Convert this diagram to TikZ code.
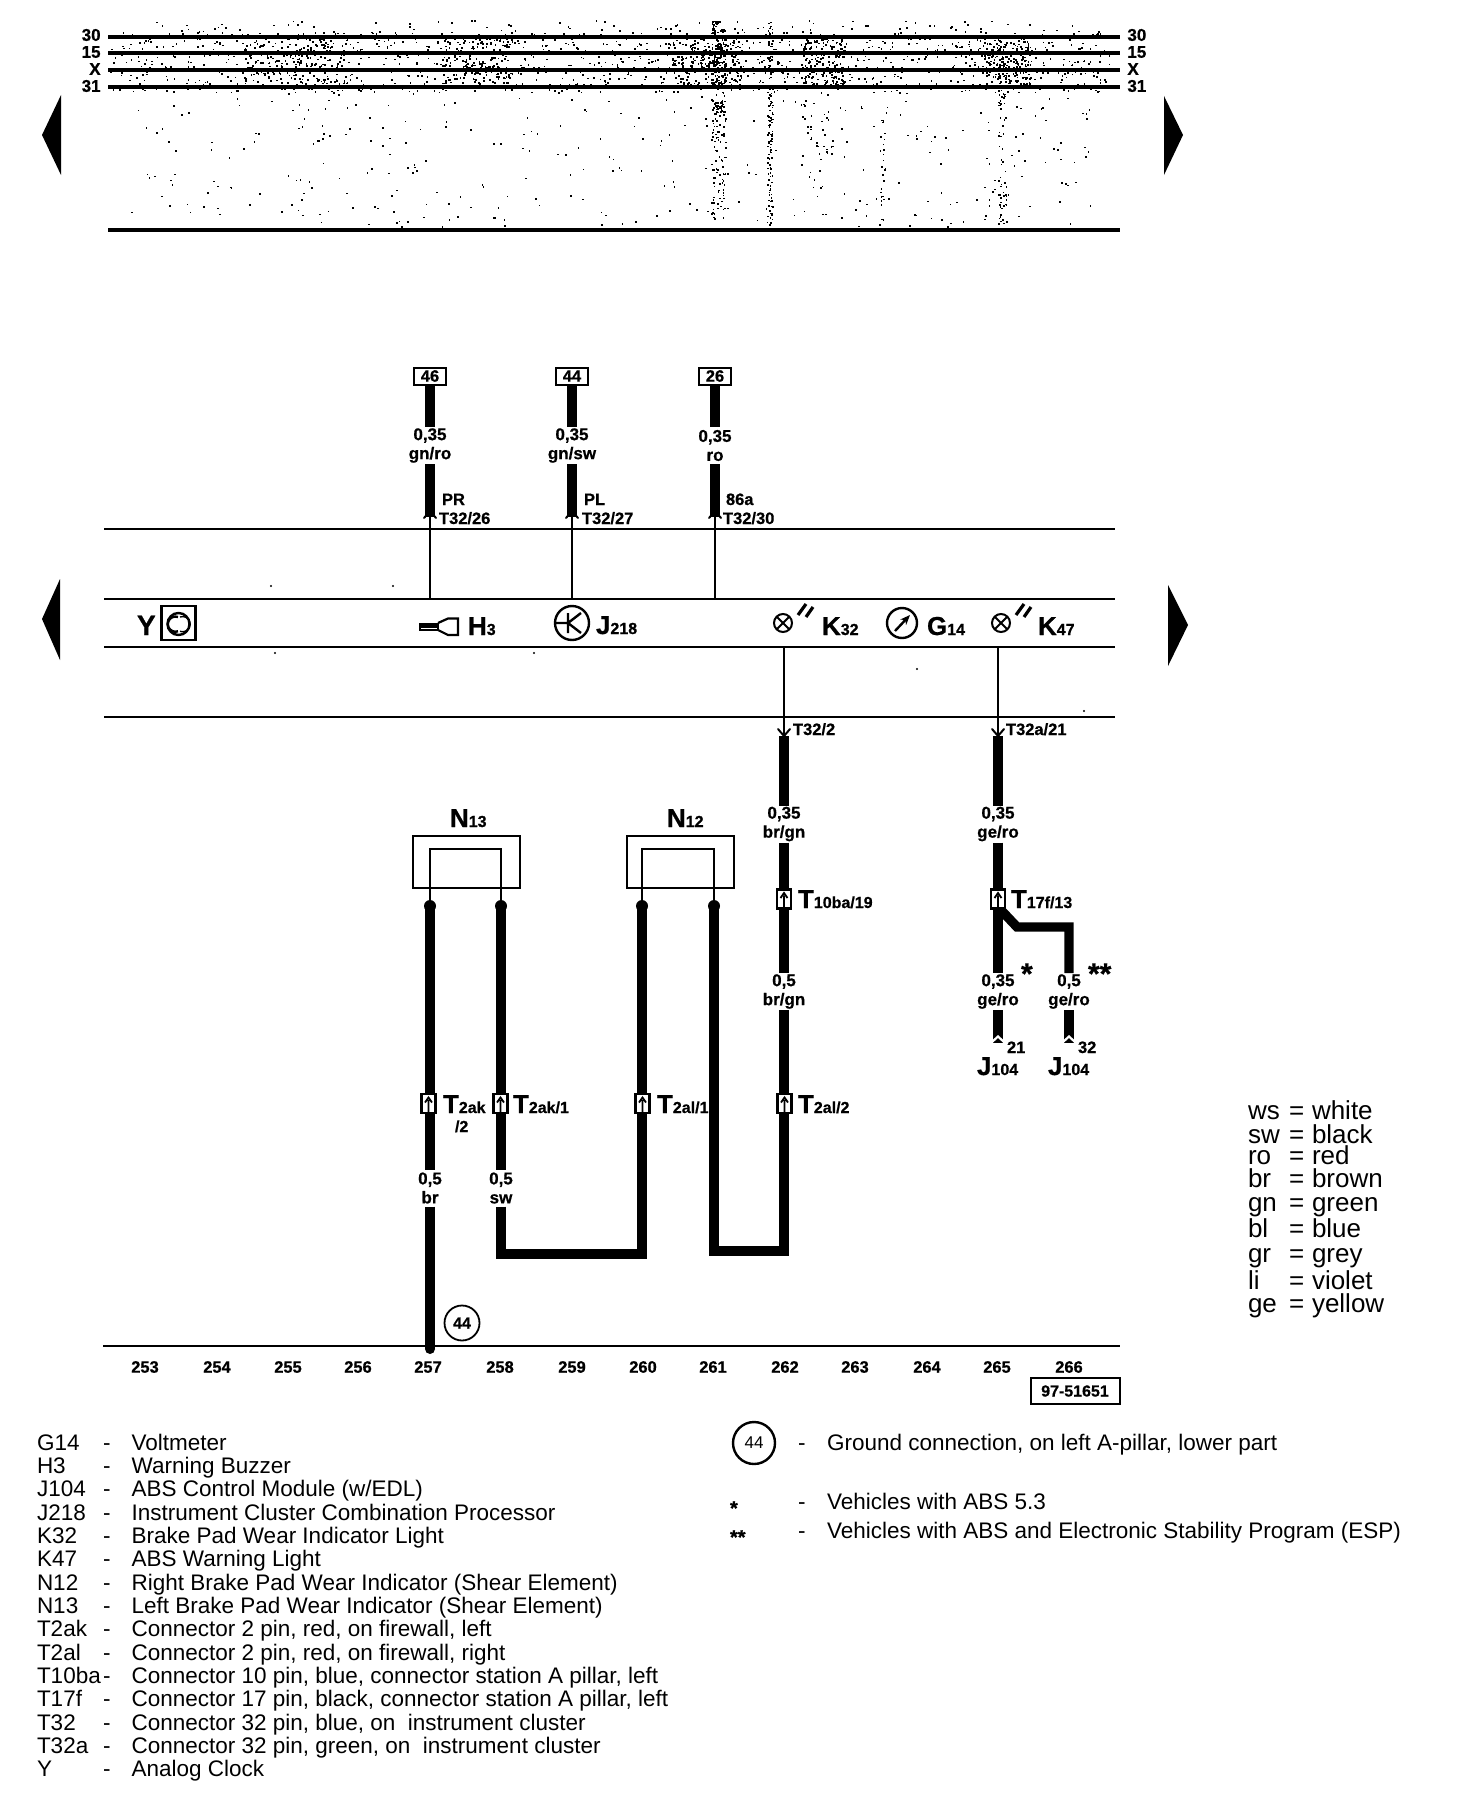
\documentclass[tikz,border=0pt]{standalone}
\usepackage{fontspec}
\setmainfont[BoldFeatures={FakeBold=0.7}]{Liberation Sans}
\usetikzlibrary{arrows.meta}
\newcommand\subs[1]{{\fontsize{8}{8}\selectfont #1}}
\tikzset{
  wire/.style={line width=4.7pt,line cap=butt,line join=miter},
  thinw/.style={line width=1.4pt},
  rule/.style={line width=1.3pt},
  bus/.style={line width=2.1pt},
  chev/.style={line width=1pt,line cap=round},
  wl/.style={inner sep=0pt,outer sep=0pt,align=center,font=\fontsize{8.5}{9.5}\selectfont\bfseries,minimum height=18.5pt},
  lab/.style={inner sep=0pt,outer sep=0pt,anchor=base west},
  small/.style={lab,font=\fontsize{8.25}{9}\selectfont\bfseries},
  comp/.style={lab,font=\fontsize{13}{13}\selectfont\bfseries},
  buslab/.style={inner sep=0pt,font=\fontsize{8.5}{8.5}\selectfont\bfseries},
  refbox/.style={draw,line width=1pt,inner sep=0pt,outer sep=0pt,minimum width=17pt,minimum height=9pt,font=\fontsize{8}{8}\selectfont\bfseries},
  numlab/.style={inner sep=0pt,font=\fontsize{8.25}{9}\selectfont\bfseries},
  legk/.style={lab,font=\fontsize{11.25}{12}\selectfont},
  colk/.style={lab,font=\fontsize{13}{13}\selectfont},
  connbox/.style={draw,fill=white,line width=1.4pt,minimum width=7pt,minimum height=9.5pt,inner sep=0pt,outer sep=0pt},
  dotn/.style={circle,fill=black,inner sep=0pt,outer sep=0pt,minimum size=6pt},
  lampn/.style={circle,draw,line width=1pt,minimum size=9pt,inner sep=0pt,outer sep=0pt},
  topbox/.style={draw,line width=1pt,minimum width=16pt,minimum height=8.5pt,inner sep=0pt,outer sep=0pt,font=\fontsize{8.25}{9}\selectfont\bfseries},
}
\newcommand\conn[3]{%
  \node[connbox] (#1) at (#2,#3) {};
  \draw[line width=.9pt] (#1.south) -- ++(0,-13) (#2-3.5,#3-1) -- (#2,#3-6) -- (#2+3.5,#3-1);
}
\newcommand\lamp[3]{%
  \node[lampn] (#1) at (#2,#3) {};
  \draw[line width=1pt] (#1.north east) -- (#1.south west) (#1.north west) -- (#1.south east);
  \draw[line width=1.6pt] (#2+15,#3-8) -- (#2+23,#3-19) (#2+23,#3-6) -- (#2+30,#3-16);
}
\newcommand\legrow[4]{%
  \node[legk] (k#1) at (37,#4) {#2};
  \node[legk] (d#1) at (103,#4) {-};
  \node[legk] (v#1) at (131.6,#4) {#3};
}
\newcommand\colrow[4]{%
  \node[colk] (c#1) at (1248,#4) {#2};
  \node[colk] (e#1) at (1289,#4) {=};
  \node[colk] (n#1) at (1312,#4) {#3};
}
\begin{document}
\begin{tikzpicture}[x=.5pt,y=-.5pt]
\useasboundingbox (0,0) rectangle (1472,1814);
% --- speckle of the scan
\pgfmathsetseed{4217}
\foreach \i in {1,...,1200}{\pgfmathsetmacro\xx{110+rnd*1000}\pgfmathsetmacro\yy{32+rnd*60}\fill (\xx,\yy) rectangle ++(1.6,1.6);}
\foreach \a/\w in {243/104,440/70,672/69,800/45,984/46}{
  \foreach \i in {1,...,170}{\pgfmathsetmacro\xx{\a+rnd*\w}\pgfmathsetmacro\yy{36+rnd*52}\fill (\xx,\yy) rectangle ++(1.8,1.8);}
}
\foreach \i in {1,...,110}{\pgfmathsetmacro\xx{150+rnd*950}\pgfmathsetmacro\yy{20+rnd*14}\fill (\xx,\yy) rectangle ++(1.6,1.6);}
\foreach \i in {1,...,330}{\pgfmathsetmacro\xx{130+rnd*960}\pgfmathsetmacro\yy{92+rnd*135}\fill (\xx,\yy) rectangle ++(1.6,1.6);}
\foreach \i in {1,...,170}{\pgfmathsetmacro\xx{711+rnd*14}\pgfmathsetmacro\yy{20+rnd*100}\fill (\xx,\yy) rectangle ++(1.8,1.8);}
\foreach \i in {1,...,80}{\pgfmathsetmacro\xx{711+rnd*14}\pgfmathsetmacro\yy{120+rnd*100}\fill (\xx,\yy) rectangle ++(1.6,1.6);}
\foreach \i in {1,...,130}{\pgfmathsetmacro\xx{767+rnd*5}\pgfmathsetmacro\yy{20+rnd*205}\fill (\xx,\yy) rectangle ++(1.6,1.6);}
\foreach \i in {1,...,100}{\pgfmathsetmacro\xx{998+rnd*8}\pgfmathsetmacro\yy{30+rnd*195}\fill (\xx,\yy) rectangle ++(1.6,1.6);}
\foreach \i in {1,...,25}{\pgfmathsetmacro\xx{880+rnd*5}\pgfmathsetmacro\yy{90+rnd*135}\fill (\xx,\yy) rectangle ++(1.6,1.6);}
\foreach \i in {1,...,40}{\pgfmathsetmacro\xx{800+rnd*35}\pgfmathsetmacro\yy{90+rnd*100}\fill (\xx,\yy) rectangle ++(1.6,1.6);}
\foreach \p in {(393,586),(534,653),(917,669),(1084,711),(275,653),(271,586)}{\fill \p circle[radius=1.2];}
% --- top bus
\foreach \n/\t/\y/\ty in {a/30/36.7/35,b/15/53.3/52,c/X/70.3/69,d/31/87/86}{
  \node[buslab,anchor=east] (bl\n) at (101,\ty) {\t};
  \node[buslab,anchor=west] (br\n) at (1127,\ty) {\t};
  \coordinate (bs\n) at (108,\y); \coordinate (be\n) at (1120,\y);
  \draw[bus] (bs\n) -- (be\n);
}
\coordinate (bs0) at (108,230); \coordinate (be0) at (1120,230);
\draw[line width=1.9pt] (bs0) -- (be0);
% --- page arrows
\fill (42,135) -- (61,95) -- (61,175) -- cycle;
\fill (1183,135) -- (1164,96) -- (1164,175) -- cycle;
\fill (42,619) -- (60,579) -- (60,660) -- cycle;
\fill (1188,625) -- (1168,585) -- (1168,666) -- cycle;
% --- horizontal rules
\foreach \n/\y in {a/529,b/599,c/647,d/717}{
  \coordinate (rs\n) at (104,\y); \coordinate (re\n) at (1115,\y);
  \draw[rule] (rs\n) -- (re\n);
}
\coordinate (gs) at (103,1346); \coordinate (ge) at (1120,1346);
\draw[rule] (gs) -- (ge);
% --- upper wires
\node[topbox] (t46) at (430,376) {46};
\node[topbox] (t44) at (572,376) {44};
\node[topbox] (t26) at (715,376) {26};
\node[wl] (w46) at (430,445.5) {0,35\\gn/ro};
\node[wl] (w44) at (572,445.5) {0,35\\gn/sw};
\node[wl] (w26) at (715,445.5) {0,35\\ro};
\foreach \n/\x in {46/430,44/572,26/715}{
  \coordinate (e\n) at (\x,517);
  \coordinate (a\n) at (\x,511);
  \coordinate (b\n) at (\x,599);
  \draw[wire] (t\n.south) -- (w\n.north) (w\n.south) -- (e\n);
  \draw[thinw] (b\n) -- (a\n);
  \draw[chev] (\x-6,518) -- (a\n) -- (\x+6,518);
}
\node[small] (pr) at (442,505) {PR};
\node[small] (t3226) at (439,524) {T32/26};
\node[small] (pl) at (584,505) {PL};
\node[small] (t3227) at (582,524) {T32/27};
\node[small] (s86) at (726,505) {86a};
\node[small] (t3230) at (723,524) {T32/30};
% --- instrument row
\node[comp,font=\fontsize{14}{14}\selectfont\bfseries] (ylab) at (137,635) {Y};
\node[draw,line width=1.2pt,minimum size=17pt,inner sep=0pt,outer sep=0pt] (ybox) at (178.5,623) {};
\node[circle,draw,line width=1.2pt,minimum size=11pt,inner sep=0pt,outer sep=0pt] (yclk) at (178.5,624) {};
\draw[line width=1.2pt] (178,617) arc[start angle=70,end angle=290,radius=3.8pt];
\draw[line width=.7pt] (180,617) arc[start angle=110,end angle=-110,radius=3.8pt];
\draw[line width=1.7pt] (420,626.5) -- (438,626.5);
\draw[line width=1pt] (420,623.5) rectangle (438,630);
\draw[line width=1.1pt] (438,623) -- (448,618.5) -- (458,618.5) -- (458,635) -- (448,635) -- (438,630);
\node[comp] (h3) at (468,635) {H\subs{3}};
\node[circle,draw,line width=1.2pt,minimum size=17pt,inner sep=0pt,outer sep=0pt] (j218c) at (572,623) {};
\draw[line width=1.2pt] (j218c.west) -- (568,623) (568,613) -- (568,633) (568,623) -- (581,613) (568,623) -- (581,633);
\node[comp] (j218) at (596,634) {J\subs{218}};
\lamp{k32l}{783}{623}
\node[comp] (k32) at (822,635) {K\subs{32}};
\node[circle,draw,line width=1.2pt,minimum size=15pt,inner sep=0pt,outer sep=0pt] (g14c) at (902,623) {};
\draw[line width=1.2pt,-{Stealth[length=5pt,width=4pt]}] (895,631) -- (910,615);
\node[comp] (g14) at (927,635) {G\subs{14}};
\lamp{k47l}{1001}{623}
\node[comp] (k47) at (1038,635) {K\subs{47}};
% --- wires below the instrument row
\coordinate (k2t) at (784,647); \coordinate (k2a) at (784,736);
\coordinate (k7t) at (998,647); \coordinate (k7a) at (998,736);
\draw[thinw] (k2t) -- (k2a);
\draw[thinw] (k7t) -- (k7a);
\draw[chev] (778,729) -- (k2a) -- (790,729);
\draw[chev] (992,729) -- (k7a) -- (1004,729);
\node[small] (t322) at (793,735) {T32/2};
\node[small] (t32a) at (1006,735) {T32a/21};
\node[wl] (wa) at (784,824) {0,35\\br/gn};
\node[wl] (wb) at (784,991.5) {0,5\\br/gn};
\node[wl] (wc) at (998,824) {0,35\\ge/ro};
\node[wl] (wd) at (998,991.5) {0,35\\ge/ro};
\node[wl] (we) at (1069,991.5) {0,5\\ge/ro};
\node[wl] (wf) at (430,1188) {0,5\\br};
\node[wl] (wg) at (501,1188) {0,5\\sw};
% N boxes
\node[draw,line width=1.2pt,minimum width=53.5pt,minimum height=26pt,inner sep=0pt,outer sep=0pt] (n13) at (466.5,862) {};
\node[draw,line width=1.2pt,minimum width=53.5pt,minimum height=26pt,inner sep=0pt,outer sep=0pt] (n12) at (680.5,862) {};
\node[comp] (n13l) at (450,827) {N\subs{13}};
\node[comp] (n12l) at (667,827) {N\subs{12}};
\node[dotn] (d1) at (430,906) {};
\node[dotn] (d2) at (501,906) {};
\node[dotn] (d3) at (642,906) {};
\node[dotn] (d4) at (714,906) {};
\draw[line width=1.2pt] (430,888) |- (501,849) -- (501,888);
\draw[line width=1.2pt] (642,888) |- (714,849) -- (714,888);
\draw[line width=.7pt] (d1) -- (430,888) (d2) -- (501,888) (d3) -- (642,888) (d4) -- (714,888);
% thick wires
\coordinate (s0) at (784,736);
\coordinate (s1) at (998,736);
\draw[wire] (s0) -- (wa.north) (wa.south) -- (wb.north);
\coordinate (wbr) at (784,1251); \coordinate (d4b) at (714,1251);
\draw[wire] (wb.south) -- (wbr) -- (d4b) -- (d4.center);
\draw[wire] (s1) -- (wc.north) (wc.south) -- (wd.north);
\coordinate (j1) at (1000,909); \coordinate (j2) at (1017,927); \coordinate (j3) at (1069,927);
\draw[wire] (j1) -- (j2) -- (j3) -- (we.north);
\coordinate (e1) at (998,1043); \coordinate (e2) at (1069,1043);
\draw[wire] (wd.south) -- (e1);
\draw[wire] (we.south) -- (e2);
\draw[line width=1.1pt,white] (992,1042) -- (998,1036.5) -- (1004,1042);
\draw[line width=1.1pt,white] (1063,1042) -- (1069,1036.5) -- (1075,1042);
\draw[wire] (d1.center) -- (wf.north);
\coordinate (g1) at (430,1349);
\draw[wire] (wf.south) -- (g1);
\draw[wire] (d2.center) -- (wg.north);
\coordinate (bl1) at (501,1254); \coordinate (bl2) at (642,1254);
\draw[wire] (wg.south) -- (bl1) -- (bl2) -- (d3.center);
\node[dotn,minimum size=5pt] (g1d) at (g1) {};
% connectors
\conn{c1}{784}{899}
\conn{c2}{998}{899}
\conn{c3}{428.5}{1103.5}
\conn{c4}{500.5}{1103.5}
\conn{c5}{642.5}{1103.5}
\conn{c6}{784.5}{1103.5}
\node[comp] (tl1) at (798,908) {T\subs{10ba/19}};
\node[comp] (tl2) at (1011,908) {T\subs{17f/13}};
\node[comp] (tl3) at (443,1113) {T\subs{2ak}};
\node[comp,font=\fontsize{8}{8}\selectfont\bfseries] (tl3b) at (455,1132) {/2};
\node[comp] (tl4) at (513,1113) {T\subs{2ak/1}};
\node[comp] (tl5) at (657,1113) {T\subs{2al/1}};
\node[comp] (tl6) at (798,1113) {T\subs{2al/2}};
\node[small,font=\fontsize{15}{15}\selectfont\bfseries] (st1) at (1021,984) {*};
\node[small,font=\fontsize{15}{15}\selectfont\bfseries] (st2) at (1088,984) {**};
\node[small] (p21) at (1007,1053) {21};
\node[small] (p32) at (1078,1053) {32};
\node[comp] (j1a) at (977,1075) {J\subs{104}};
\node[comp] (j1b) at (1048,1075) {J\subs{104}};
% ground
\node[circle,draw,line width=.9pt,minimum size=17.5pt,inner sep=0pt,outer sep=0pt,font=\fontsize{8}{8}\selectfont\bfseries] (g44) at (462,1323) {44};
% numbers
\foreach \n/\x in {253/145,254/217,255/288,256/358,257/428,258/500,259/572,260/643,261/713,262/785,263/855,264/927,265/997,266/1069}{
  \node[numlab] (nr\n) at (\x,1367) {\n};
}
\node[refbox,minimum width=44.5pt,minimum height=13pt] (ref) at (1075,1391) {97-51651};
% colour key
\colrow{a}{ws}{white}{1119}
\colrow{b}{sw}{black}{1143}
\colrow{c}{ro}{red}{1164}
\colrow{d}{br}{brown}{1187}
\colrow{e}{gn}{green}{1211}
\colrow{f}{bl}{blue}{1237}
\colrow{g}{gr}{grey}{1262}
\colrow{h}{li}{violet}{1289}
\colrow{i}{ge}{yellow}{1312}
% legend
\legrow{a}{G14}{Voltmeter}{1450}
\legrow{b}{H3}{Warning Buzzer}{1473.3}
\legrow{c}{J104}{ABS Control Module (w/EDL)}{1496.7}
\legrow{d}{J218}{Instrument Cluster Combination Processor}{1520}
\legrow{e}{K32}{Brake Pad Wear Indicator Light}{1543.3}
\legrow{f}{K47}{ABS Warning Light}{1566.7}
\legrow{g}{N12}{Right Brake Pad Wear Indicator (Shear Element)}{1590}
\legrow{h}{N13}{Left Brake Pad Wear Indicator (Shear Element)}{1613.3}
\legrow{i}{T2ak}{Connector 2 pin, red, on firewall, left}{1636.7}
\legrow{j}{T2al}{Connector 2 pin, red, on firewall, right}{1660}
\legrow{k}{T10ba}{Connector 10 pin, blue, connector station A pillar, left}{1683.3}
\legrow{l}{T17f}{Connector 17 pin, black, connector station A pillar, left}{1706.7}
\legrow{m}{T32}{Connector 32 pin, blue, on\ \ instrument cluster}{1730}
\legrow{n}{T32a}{Connector 32 pin, green, on\ \ instrument cluster}{1753.3}
\legrow{o}{Y}{Analog Clock}{1776.7}
% right legend
\node[circle,draw,line width=1.2pt,minimum size=21pt,inner sep=0pt,outer sep=0pt,font=\fontsize{8.5}{9}\selectfont] (g44k) at (754,1443) {44};
\node[legk] (gd) at (798,1450) {-};
\node[legk] (gt) at (827,1450) {Ground connection, on left A-pillar, lower part};
\node[small,font=\fontsize{10}{10}\selectfont\bfseries] (sk1) at (730,1515) {*};
\node[legk] (sd1) at (798,1509) {-};
\node[legk] (st1k) at (827,1509) {Vehicles with ABS 5.3};
\node[small,font=\fontsize{10}{10}\selectfont\bfseries] (sk2) at (730,1544) {**};
\node[legk] (sd2) at (798,1538) {-};
\node[legk] (st2k) at (827,1538) {Vehicles with ABS and Electronic Stability Program (ESP)};
\end{tikzpicture}
\end{document}
